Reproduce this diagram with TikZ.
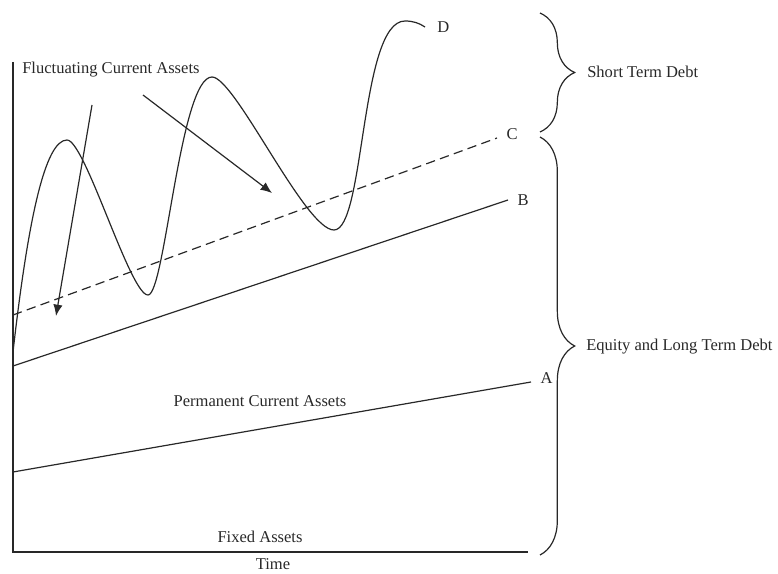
\documentclass[tikz,border=0pt]{standalone}
\usepackage{fontspec}
\setmainfont{Liberation Serif}
\usepackage{xcolor}
\usepackage{tikz}
\usetikzlibrary{arrows.meta, positioning, calc, decorations.pathreplacing}
\definecolor{ink}{RGB}{40, 40, 40}
\tikzstyle{curve} = [line width=0.9pt, draw=ink]
\tikzstyle{arrow} = [curve,->,>={Latex[length=8.5pt,width=7pt]}]
\tikzstyle{lbl} = [font=\fontsize{12.4}{15}\selectfont, text=ink, inner sep=0pt]
\tikzstyle{debtbrace} = [curve, decorate, decoration={brace, amplitude=26pt}]

\begin{document}
\begin{tikzpicture}[x=0.75pt, y=-0.75pt]
\useasboundingbox (0,0) rectangle (778,574);

% Axes
\coordinate (top) at (13,62);
\coordinate (origin) at (13,552);
\coordinate (right) at (528,552);
\draw[curve] (top) -- (origin) -- (right);

% Lines A, B and C
\coordinate (a0) at (13,472);
\coordinate (a1) at (531,382);
\coordinate (b0) at (13,366);
\coordinate (b1) at (508,200);
\coordinate (c0) at (13,315);
\coordinate (c1) at (497,138);
\draw[curve] (a0) -- (a1);
\draw[curve] (b0) -- (b1);
\draw[curve, dash pattern=on 7pt off 4pt] (c0) -- (c1);
\node[lbl, right=7pt of a1, yshift=3pt] (A) {A};
\node[lbl, right=7pt of b1] (B) {B};
\node[lbl, right=7pt of c1, yshift=3pt] (C) {C};

% Fluctuating assets
\coordinate (d0) at (13,352);
\coordinate (d1) at (425,27);
\draw[curve] (d0) .. controls (28,220) and (45,140) .. (67,140)
  .. controls (85,140) and (130,295) .. (148,295)
  .. controls (165,295) and (180,77) .. (212,77)
  .. controls (235,77) and (305,230) .. (334,230)
  .. controls (365,230) and (360,21) .. (405,21)
  .. controls (413,21) and (419,23) .. (d1);
\node[lbl, right=9pt of d1] (D) {D};

% Area labels
\node[lbl, anchor=west] (fca) at (22,70) {Fluctuating Current Assets};
\node[lbl] (pca) at (260,401) {Permanent Current Assets};
\node[lbl] (fa) at (260,537) {Fixed Assets};
\node[lbl] (time) at (273,564) {Time};

% Arrows
\coordinate (f1) at (92,105);
\coordinate (f1tip) at (56,316);
\coordinate (f2) at (143,95);
\coordinate (f2tip) at (272,193);
\draw[arrow] (f1) -- (f1tip);
\draw[arrow] (f2) -- (f2tip);

% Braces
\coordinate (s0) at (540,13);
\coordinate (s1) at (540,132);
\coordinate (e0) at (540,137);
\coordinate (e1) at (540,555);
\draw[debtbrace] (s0) -- (s1);
\draw[debtbrace] (e0) -- (e1);
\node[lbl, anchor=west] (std) at (587,72) {Short Term Debt};
\node[lbl, anchor=west] (eltd) at (586,347) {Equity and Long Term Debt};

\end{tikzpicture}
\end{document}
